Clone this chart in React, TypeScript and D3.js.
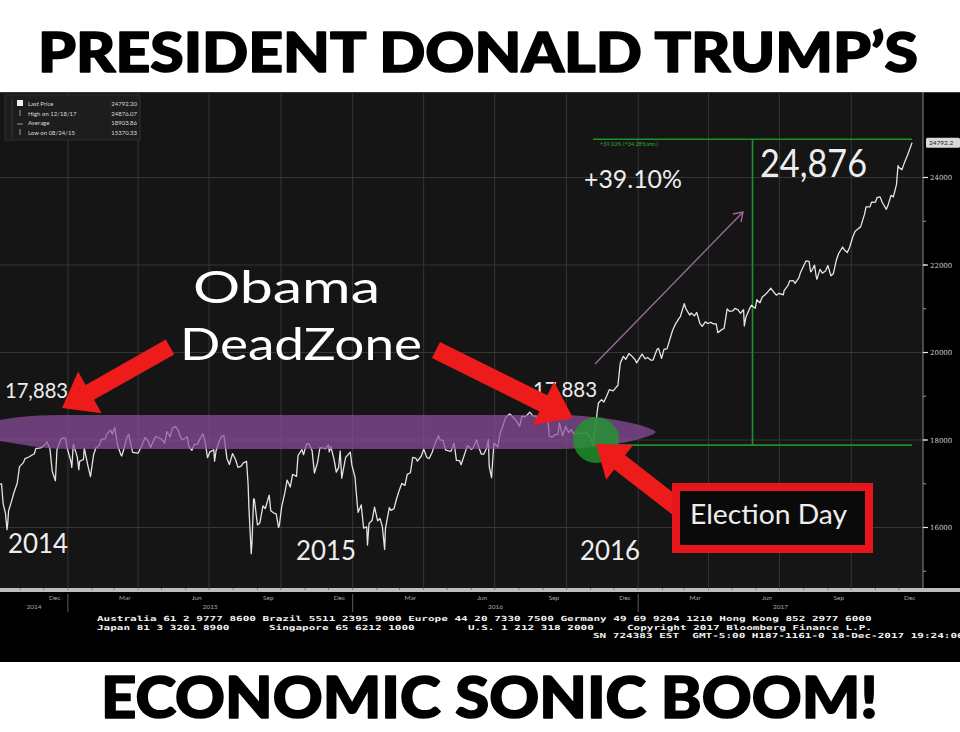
import React from "react";
import * as d3 from "d3";

// Dow Jones Industrial Average, closing levels (with a few session lows)
const dowCloses: [string, number][] = [
  ["2014-10-06",16991],["2014-10-08",16995],["2014-10-10",16544],["2014-10-13",16321],["2014-10-15",15950],["2014-10-16",16117],["2014-10-17",16380],["2014-10-21",16615],["2014-10-24",16805],["2014-10-28",17005],["2014-10-31",17391],["2014-11-05",17484],["2014-11-07",17573],["2014-11-12",17612],["2014-11-14",17634],["2014-11-19",17685],["2014-11-21",17810],["2014-11-25",17815],["2014-11-28",17828],["2014-12-02",17880],["2014-12-05",17958],["2014-12-09",17801],["2014-12-12",17280],["2014-12-16",17068],["2014-12-18",17778],["2014-12-23",18024],["2014-12-26",18053],["2014-12-29",18038],["2014-12-31",17823],
  ["2015-01-05",17501],["2015-01-06",17371],["2015-01-08",17907],["2015-01-13",17613],["2015-01-15",17320],["2015-01-16",17511],["2015-01-21",17554],["2015-01-22",17813],["2015-01-27",17387],["2015-01-30",17165],["2015-02-03",17667],["2015-02-06",17824],["2015-02-10",17868],["2015-02-13",18019],["2015-02-18",18029],["2015-02-20",18140],["2015-02-25",18224],["2015-02-27",18133],["2015-03-02",18288],["2015-03-06",17856],["2015-03-10",17662],["2015-03-11",17635],["2015-03-13",17749],["2015-03-18",18076],["2015-03-20",18127],["2015-03-25",17718],["2015-03-27",17712],["2015-04-01",17698],["2015-04-06",17880],["2015-04-10",18057],["2015-04-14",17977],["2015-04-17",17826],["2015-04-22",18038],["2015-04-24",18080],["2015-04-29",18035],["2015-05-01",18024],["2015-05-05",17928],["2015-05-08",18191],["2015-05-12",18068],["2015-05-15",18272],["2015-05-19",18312],["2015-05-22",18232],["2015-05-26",18041],["2015-05-29",18010],["2015-06-03",18076],["2015-06-05",17849],["2015-06-09",17765],["2015-06-12",17898],["2015-06-16",17905],["2015-06-19",18015],["2015-06-23",18144],["2015-06-26",17947],["2015-06-29",17596],["2015-07-02",17730],["2015-07-07",17776],["2015-07-08",17515],["2015-07-10",17760],["2015-07-14",17977],["2015-07-17",18086],["2015-07-20",18100],["2015-07-24",17568],["2015-07-27",17440],["2015-07-31",17690],["2015-08-04",17550],["2015-08-07",17373],["2015-08-11",17402],["2015-08-14",17477],["2015-08-18",17512],["2015-08-20",16990],["2015-08-21",16460],["2015-08-24",15400],["2015-08-25",15666],["2015-08-27",16655],["2015-08-28",16643],["2015-09-01",16058],["2015-09-04",16102],["2015-09-08",16492],["2015-09-11",16433],["2015-09-16",16740],["2015-09-18",16384],["2015-09-22",16330],["2015-09-25",16314],["2015-09-28",16001],["2015-09-29",16049],["2015-10-02",16472],["2015-10-06",16790],["2015-10-09",17084],["2015-10-13",16924],["2015-10-16",17216],["2015-10-21",17168],["2015-10-23",17646],["2015-10-28",17780],["2015-10-30",17664],["2015-11-03",17918],["2015-11-06",17910],["2015-11-10",17758],["2015-11-13",17245],["2015-11-17",17489],["2015-11-20",17823],["2015-11-25",17813],["2015-11-27",17798],["2015-12-01",17888],["2015-12-02",17730],["2015-12-04",17848],["2015-12-08",17568],["2015-12-11",17265],["2015-12-14",17368],["2015-12-16",17750],["2015-12-18",17128],["2015-12-23",17603],["2015-12-29",17720],["2015-12-31",17425],
  ["2016-01-04",17149],["2016-01-07",16514],["2016-01-08",16346],["2016-01-12",16516],["2016-01-15",15988],["2016-01-19",16016],["2016-01-20",15600],["2016-01-22",16093],["2016-01-26",16167],["2016-01-29",16466],["2016-02-02",16153],["2016-02-05",16205],["2016-02-08",16027],["2016-02-11",15500],["2016-02-12",15974],["2016-02-17",16454],["2016-02-19",16392],["2016-02-23",16431],["2016-02-26",16640],["2016-03-01",16865],["2016-03-04",17006],["2016-03-08",16964],["2016-03-11",17213],["2016-03-15",17251],["2016-03-18",17602],["2016-03-22",17583],["2016-03-24",17516],["2016-03-29",17634],["2016-04-01",17792],["2016-04-05",17603],["2016-04-08",17577],["2016-04-12",17722],["2016-04-15",17897],["2016-04-20",18096],["2016-04-22",18003],["2016-04-26",17990],["2016-04-29",17774],["2016-05-03",17750],["2016-05-06",17740],["2016-05-10",17928],["2016-05-13",17535],["2016-05-17",17530],["2016-05-19",17435],["2016-05-24",17706],["2016-05-27",17873],["2016-06-01",17789],["2016-06-03",17807],["2016-06-08",18005],["2016-06-10",17865],["2016-06-14",17675],["2016-06-17",17675],["2016-06-21",17830],["2016-06-23",18011],["2016-06-24",17400],["2016-06-27",17140],["2016-06-30",17930],["2016-07-05",17841],["2016-07-08",18147],["2016-07-12",18347],["2016-07-15",18516],["2016-07-20",18595],["2016-07-22",18571],["2016-07-27",18473],["2016-07-29",18432],["2016-08-02",18314],["2016-08-05",18543],["2016-08-09",18533],["2016-08-12",18576],["2016-08-15",18636],["2016-08-19",18552],["2016-08-23",18547],["2016-08-26",18395],["2016-08-31",18401],["2016-09-02",18492],["2016-09-07",18526],["2016-09-09",18085],["2016-09-13",18067],["2016-09-16",18124],["2016-09-20",18130],["2016-09-22",18392],["2016-09-26",18094],["2016-09-30",18308],["2016-10-04",18168],["2016-10-07",18240],["2016-10-11",18129],["2016-10-14",18138],["2016-10-18",18162],["2016-10-21",18145],["2016-10-25",18169],["2016-10-28",18161],["2016-11-01",18037],["2016-11-04",17888],["2016-11-07",18260],["2016-11-08",18332],["2016-11-09",18589],["2016-11-11",18847],["2016-11-15",18923],["2016-11-18",18868],["2016-11-22",19024],["2016-11-25",19152],["2016-11-30",19124],["2016-12-02",19170],["2016-12-06",19252],["2016-12-09",19757],["2016-12-13",19911],["2016-12-16",19843],["2016-12-20",19974],["2016-12-23",19933],["2016-12-28",19833],["2016-12-30",19763],
  ["2017-01-03",19882],["2017-01-06",19964],["2017-01-10",19856],["2017-01-13",19885],["2017-01-17",19826],["2017-01-20",19827],["2017-01-25",20069],["2017-01-27",20094],["2017-01-31",19864],["2017-02-03",20071],["2017-02-07",20090],["2017-02-10",20269],["2017-02-14",20504],["2017-02-17",20624],["2017-02-22",20775],["2017-02-24",20822],["2017-03-01",21115],["2017-03-03",21005],["2017-03-08",20855],["2017-03-10",20903],["2017-03-14",20837],["2017-03-17",20915],["2017-03-21",20668],["2017-03-24",20597],["2017-03-28",20701],["2017-03-31",20663],["2017-04-04",20689],["2017-04-07",20656],["2017-04-11",20651],["2017-04-13",20453],["2017-04-18",20523],["2017-04-21",20548],["2017-04-25",20997],["2017-04-28",20941],["2017-05-02",20950],["2017-05-05",21007],["2017-05-09",20975],["2017-05-12",20897],["2017-05-16",20980],["2017-05-17",20607],["2017-05-19",20805],["2017-05-24",21012],["2017-05-26",21080],["2017-05-31",21009],["2017-06-02",21206],["2017-06-06",21136],["2017-06-09",21271],["2017-06-13",21328],["2017-06-16",21384],["2017-06-20",21468],["2017-06-23",21395],["2017-06-27",21310],["2017-06-30",21350],["2017-07-06",21320],["2017-07-07",21414],["2017-07-12",21532],["2017-07-14",21638],["2017-07-19",21641],["2017-07-21",21580],["2017-07-26",21711],["2017-07-28",21830],["2017-08-02",22016],["2017-08-04",22092],["2017-08-08",22085],["2017-08-10",21844],["2017-08-11",21858],["2017-08-15",21998],["2017-08-17",21750],["2017-08-18",21675],["2017-08-22",21899],["2017-08-25",21814],["2017-08-29",21865],["2017-09-01",21988],["2017-09-05",21753],["2017-09-08",21798],["2017-09-12",22118],["2017-09-15",22268],["2017-09-20",22412],["2017-09-22",22350],["2017-09-26",22284],["2017-09-29",22405],["2017-10-03",22641],["2017-10-06",22774],["2017-10-10",22831],["2017-10-13",22871],["2017-10-18",23157],["2017-10-20",23329],["2017-10-25",23329],["2017-10-27",23434],["2017-11-01",23435],["2017-11-03",23539],["2017-11-07",23557],["2017-11-10",23422],["2017-11-15",23272],["2017-11-17",23358],["2017-11-21",23591],["2017-11-24",23558],["2017-11-28",23837],["2017-11-30",24272],["2017-12-01",24231],["2017-12-05",24180],["2017-12-08",24329],["2017-12-12",24505],["2017-12-15",24651],["2017-12-18",24792],
];

const yTickValues = [16000, 18000, 20000, 22000, 24000];
const yMinorValues = [15000, 16000, 17000, 18000, 19000, 20000, 21000, 22000, 23000, 24000];
const monthLabels = ["Dec", "Mar", "Jun", "Sep"];
const yearLabels = ["2014", "2015", "2016", "2017"];

const legendRows: [string, string][] = [
  ["Last Price", "24792.20"],
  ["High on 12/18/17", "24876.07"],
  ["Average", "18903.86"],
  ["Low on 08/24/15", "15370.33"],
];

const lastPrice = 24792.2;
const highPrice = 24876;
const preElection = 17883;
const electionDay = "2016-11-08";
const gainStart = "2016-11-04";
const gainEnd = "2017-12-18";

const footerLines: [string, number, number][] = [
  ["Australia 61 2 9777 8600 Brazil 5511 2395 9000 Europe 44 20 7330 7500 Germany 49 69 9204 1210 Hong Kong 852 2977 6000", 97, 621],
  ["Japan 81 3 3201 8900", 97, 629.5],
  ["Singapore 65 6212 1000", 269, 629.5],
  ["U.S. 1 212 318 2000", 468, 629.5],
  ["Copyright 2017 Bloomberg Finance L.P.", 627, 629.5],
  ["SN 724383 EST  GMT-5:00 H187-1161-0 18-Dec-2017 19:24:06", 593, 638],
];

const W = 960;
const H = 732;
const plotTop = 92;
const plotBottom = 588;
const axisX = 923;

const parse = d3.timeParse("%Y-%m-%d");

function arrowPath(tx: number, ty: number, hx: number, hy: number, bw: number, hw: number, hl: number) {
  const dx = hx - tx, dy = hy - ty;
  const L = Math.hypot(dx, dy);
  const ux = dx / L, uy = dy / L;
  const px = -uy, py = ux;
  const bx = hx - ux * hl, by = hy - uy * hl;
  const pts = [
    [tx + px * bw / 2, ty + py * bw / 2],
    [bx + px * bw / 2, by + py * bw / 2],
    [bx + px * hw / 2, by + py * hw / 2],
    [hx, hy],
    [bx - px * hw / 2, by - py * hw / 2],
    [bx - px * bw / 2, by - py * bw / 2],
    [tx - px * bw / 2, ty - py * bw / 2],
  ];
  return "M" + pts.map((p) => p[0].toFixed(1) + "," + p[1].toFixed(1)).join("L") + "Z";
}

export default function App() {
  const data = dowCloses.map(([d, v]) => ({ date: parse(d) as Date, value: v }));

  const x = d3.scaleTime()
    .domain([new Date(2014, 9, 6), new Date(2018, 0, 1)])
    .range([0, axisX]);
  const y = d3.scaleLinear().domain([18000, 24000]).range([440, 177.5]);

  const line = d3.line<{ date: Date; value: number }>()
    .x((d) => x(d.date))
    .y((d) => y(d.value));

  const quarterStarts = d3.timeMonth.every(3)!.range(new Date(2014, 9, 1), new Date(2018, 0, 1))
    .filter((d) => d.getMonth() % 3 === 0);
  const months = d3.timeMonth.range(new Date(2014, 9, 1), new Date(2018, 0, 1));
  const labelMonths = months.filter((d) => (d.getMonth() + 1) % 3 === 0 && d >= new Date(2014, 11, 1));
  const yearStarts = [new Date(2015, 0, 1), new Date(2016, 0, 1), new Date(2017, 0, 1)];
  const yearBounds = [x.range()[0], ...yearStarts.map((d) => x(d)), axisX];

  const xs = x(parse(gainStart) as Date);
  const xe = x(parse(gainEnd) as Date);
  const xm = (xs + xe) / 2;
  const xElect = x(parse(electionDay) as Date);

  const sans = "Lato, 'Open Sans', 'DejaVu Sans', sans-serif";
  const mono = "'DejaVu Sans Mono', 'Liberation Mono', monospace";

  return (
    <svg width={W} height={H} style={{ position: "absolute", left: 0, top: 0, background: "#fff" }}>
      {/* banners */}
      <rect x={0} y={0} width={W} height={H} fill="#fff" />
      <text x={38} y={72} fontFamily="Lato, 'Roboto', sans-serif" fontWeight={900} fontSize={55}
        textLength={880} lengthAdjust="spacingAndGlyphs" fill="#000" stroke="#000" strokeWidth={1.6}
        strokeLinejoin="round">PRESIDENT DONALD TRUMP’S</text>
      <text x={101} y={718} fontFamily="Lato, 'Roboto', sans-serif" fontWeight={900} fontSize={58}
        textLength={777} lengthAdjust="spacingAndGlyphs" fill="#000" stroke="#000" strokeWidth={1.6}
        strokeLinejoin="round">ECONOMIC SONIC BOOM!</text>

      {/* terminal panel */}
      <rect x={0} y={plotTop} width={W} height={662 - plotTop} fill="#000" />
      <rect x={0} y={plotTop} width={axisX} height={plotBottom - plotTop} fill="#151515" />
      <line x1={0} x2={W} y1={plotTop + 0.5} y2={plotTop + 0.5} stroke="#3a3a3a" />

      {/* grid */}
      {quarterStarts.map((d, i) => (
        <line key={"vg" + i} x1={x(d)} x2={x(d)} y1={plotTop} y2={plotBottom} stroke="#353535" strokeWidth={1} />
      ))}
      {yTickValues.map((v) => (
        <line key={"hg" + v} x1={0} x2={axisX} y1={y(v)} y2={y(v)} stroke="#353535" strokeWidth={1} />
      ))}

      {/* gain measurement */}
      <g stroke="#1f8f2a" strokeWidth={1.6}>
        <line x1={xs} x2={xe} y1={y(highPrice)} y2={y(highPrice)} />
        <line x1={xs} x2={xe} y1={y(preElection)} y2={y(preElection)} />
        <line x1={xm} x2={xm} y1={y(highPrice)} y2={y(preElection)} />
      </g>
      <text x={600} y={146} fontFamily={sans} fontSize={5.5} fill="#2aa53a">+39.10% (+34.28%ann.)</text>

      {/* price line */}
      <path d={line(data) as string} fill="none" stroke="#e4e4e4" strokeWidth={1.3} strokeLinejoin="round" />

      {/* legend */}
      <rect x={5} y={95} width={135} height={45} fill="#1d1d1d" stroke="#2e2e2e" />
      {legendRows.map(([label, val], i) => (
        <g key={label} fontFamily={sans} fontSize={6} fill="#d8d8d8">
          <text x={28} y={106 + i * 9.7}>{label}</text>
          <text x={137} y={106 + i * 9.7} textAnchor="end">{val}</text>
        </g>
      ))}
      <rect x={17} y={100} width={6} height={6} fill="#eee" />
      <line x1={20} x2={20} y1={110} y2={116} stroke="#bbb" strokeWidth={0.8} />
      <line x1={17} x2={23} y1={124} y2={124} stroke="#bbb" strokeWidth={0.8} />
      <line x1={20} x2={20} y1={129} y2={135} stroke="#bbb" strokeWidth={0.8} />
      <line x1={12} x2={12} y1={99} y2={137} stroke="#444" strokeWidth={0.8} />

      {/* right axis */}
      <line x1={axisX} x2={axisX} y1={plotTop} y2={plotBottom} stroke="#8a8a8a" strokeWidth={1} />
      {yMinorValues.map((v) => (
        <line key={"mt" + v} x1={axisX} x2={axisX + 3} y1={y(v)} y2={y(v)} stroke="#999" />
      ))}
      {yTickValues.map((v) => (
        <g key={"yt" + v}>
          <line x1={axisX} x2={axisX + 5} y1={y(v)} y2={y(v)} stroke="#eee" strokeWidth={1.2} />
          <text x={axisX + 7} y={y(v) + 2.5} fontFamily="'DejaVu Serif', serif" fontSize={7} fill="#cfcfcf">{v}</text>
        </g>
      ))}
      <rect x={axisX + 3} y={y(lastPrice) - 5} width={W - axisX - 3} height={10} rx={1.5} fill="#d9d9d9" />
      <text x={axisX + 6} y={y(lastPrice) + 2.3} fontFamily={sans} fontSize={6.5} fill="#222">24792.2</text>

      {/* time axis */}
      <rect x={0} y={plotBottom} width={W} height={4} fill="#bdbdbd" />
      {months.map((d, i) => (
        <line key={"mn" + i} x1={x(d)} x2={x(d)} y1={plotBottom} y2={plotBottom + 2} stroke="#666" strokeWidth={0.8} />
      ))}
      {labelMonths.map((d, i) => (
        <text key={"ml" + i} x={x(d3.timeDay.offset(d, 14))} y={600} textAnchor="middle"
          fontFamily={sans} fontSize={6.5} fill="#a9a9a9">{monthLabels[i % 4]}</text>
      ))}
      {yearStarts.map((d, i) => (
        <line key={"yd" + i} x1={x(d)} x2={x(d)} y1={594} y2={612} stroke="#5a5a5a" />
      ))}
      {yearLabels.map((t, i) => (
        <text key={t} x={(yearBounds[i] + yearBounds[i + 1]) / 2} y={609} textAnchor="middle"
          fontFamily={sans} fontSize={6.5} fill="#a9a9a9">{t}</text>
      ))}

      {/* footer */}
      {footerLines.map(([t, fx, fy], i) => (
        <text key={"ft" + i} x={fx} y={fy} fontFamily={mono} fontSize={7} fontWeight="bold" fill="#f2f2f2"
          textLength={t.length * 6.62} lengthAdjust="spacingAndGlyphs" style={{ whiteSpace: "pre" }}>{t}</text>
      ))}

      {/* trend arrow */}
      <g stroke="#9c6d9c" strokeWidth={1.3} fill="none">
        <line x1={595} y1={364} x2={743} y2={212} />
        <polyline points="733,214 743,212 741,222" />
      </g>

      {/* annotations text */}
      <text x={5} y={398} fontFamily={sans} fontSize={21} fill="#eee" textLength={63} lengthAdjust="spacingAndGlyphs">17,883</text>
      <text x={533} y={397} fontFamily={sans} fontSize={21} fill="#eee" textLength={64} lengthAdjust="spacingAndGlyphs">17,883</text>
      <text x={584} y={188} fontFamily={sans} fontSize={25} fill="#eee" textLength={98} lengthAdjust="spacingAndGlyphs">+39.10%</text>
      <text x={760} y={177} fontFamily={sans} fontSize={38} fill="#eee" textLength={107} lengthAdjust="spacingAndGlyphs">24,876</text>

      {/* dead zone band */}
      <path d="M0,420 C20,416 40,415 70,415 L560,415 C612,416 650,426 656,432 C650,438 612,448 560,449 L70,449 C40,449 20,444 0,441 Z"
        fill="#8e4f9e" fillOpacity={0.72} />
      <circle cx={xElect} cy={y(18000)} r={23} fill="#1f9a2c" fillOpacity={0.78} />

      <text x={193} y={303} fontFamily={sans} fontSize={45} fill="#fff" textLength={187} lengthAdjust="spacingAndGlyphs">Obama</text>
      <text x={180} y={359.5} fontFamily={sans} fontSize={45} fill="#fff" textLength={242} lengthAdjust="spacingAndGlyphs">DeadZone</text>

      {/* red arrows */}
      <g fill="#ee1b1b">
        <path d={arrowPath(170, 347, 62, 408, 17, 48, 32)} />
        <path d={arrowPath(436, 350, 573, 418, 18, 48, 33)} />
        <path d={arrowPath(681, 510, 596, 444, 18, 44, 30)} />
      </g>

      {/* election day callout */}
      <rect x={676} y={487} width={193} height={62} fill="#0a0a0a" stroke="#e8161c" strokeWidth={8} />
      <text x={690} y={524} fontFamily={sans} fontSize={27} fill="#eee" textLength={157} lengthAdjust="spacingAndGlyphs">Election Day</text>

      {/* year captions */}
      <text x={8} y={553} fontFamily={sans} fontSize={27} fill="#eee" textLength={60} lengthAdjust="spacingAndGlyphs">2014</text>
      <text x={296} y={560} fontFamily={sans} fontSize={27} fill="#eee" textLength={60} lengthAdjust="spacingAndGlyphs">2015</text>
      <text x={580} y={560} fontFamily={sans} fontSize={27} fill="#eee" textLength={60} lengthAdjust="spacingAndGlyphs">2016</text>
    </svg>
  );
}
